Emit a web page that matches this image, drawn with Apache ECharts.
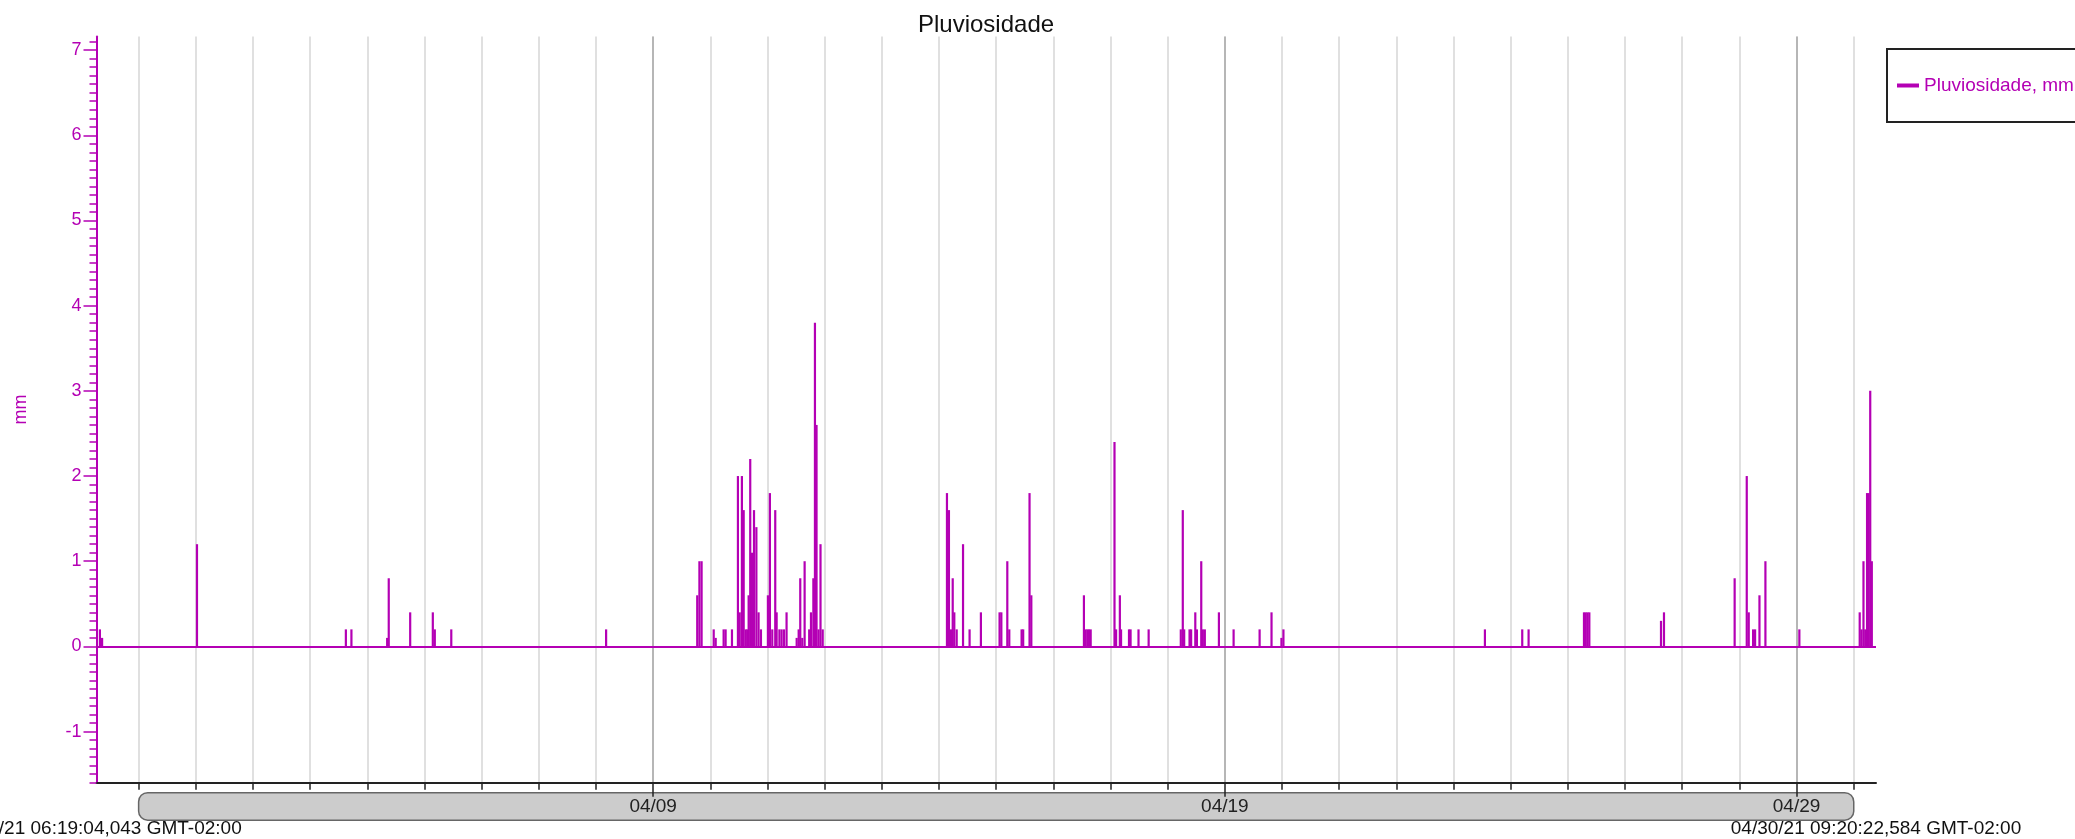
<!DOCTYPE html>
<html><head><meta charset="utf-8">
<script src="https://cdn.jsdelivr.net/npm/echarts@6/dist/echarts.min.js"></script>
<style>html,body{margin:0;padding:0;background:#fff}#c{width:2075px;height:839px}</style>
</head><body><div id="c"></div>
<script>
// ---------- data ----------
const TITLE = 'Pluviosidade';
const SERIES_NAME = 'Pluviosidade, mm';
const Y_NAME = 'mm';
const X_START = '2021-03-30 06:19:04.043';
const X_END = '2021-04-30 09:20:22.584';
const X_START_LABEL = '03/30/21 06:19:04,043 GMT-02:00';
const X_END_LABEL = '04/30/21 09:20:22,584 GMT-02:00';
const X_FIRST_DAY = '2021-03-31';
const X_LAST_DAY = '2021-04-30';
const X_MAJOR_DAYS = ['2021-04-09', '2021-04-19', '2021-04-29'];
const X_MAJOR_LABELS = ['04/09', '04/19', '04/29'];
const Y_MIN = -1.6;
const Y_MAX = 7.16;
const Y_LABELS = [-1, 0, 1, 2, 3, 4, 5, 6, 7];

const RAIN_TIMES = [
  '2021-03-30 07:45', '2021-03-30 08:40',
  '2021-04-01 00:30',
  '2021-04-03 15:00', '2021-04-03 17:20',
  '2021-04-04 08:20', '2021-04-04 09:00', '2021-04-04 18:00',
  '2021-04-05 03:30', '2021-04-05 04:20', '2021-04-05 11:15',
  '2021-04-08 04:15',
  '2021-04-09 18:30', '2021-04-09 19:25', '2021-04-09 20:20',
  '2021-04-10 01:25', '2021-04-10 02:15', '2021-04-10 05:35', '2021-04-10 06:25', '2021-04-10 09:05',
  '2021-04-10 11:35', '2021-04-10 12:20', '2021-04-10 13:15', '2021-04-10 14:00', '2021-04-10 14:50',
  '2021-04-10 15:30', '2021-04-10 16:05', '2021-04-10 16:45', '2021-04-10 17:30', '2021-04-10 18:20',
  '2021-04-10 19:20', '2021-04-10 20:15', '2021-04-10 21:15',
  '2021-04-11 00:10', '2021-04-11 01:00', '2021-04-11 02:00', '2021-04-11 03:15', '2021-04-11 03:50',
  '2021-04-11 05:00', '2021-04-11 05:55', '2021-04-11 06:55', '2021-04-11 08:00',
  '2021-04-11 12:15', '2021-04-11 13:05', '2021-04-11 13:45', '2021-04-11 14:35', '2021-04-11 15:35',
  '2021-04-11 17:30', '2021-04-11 18:15', '2021-04-11 19:15', '2021-04-11 19:55', '2021-04-11 20:35',
  '2021-04-11 21:25', '2021-04-11 22:15', '2021-04-11 23:10',
  '2021-04-14 03:20', '2021-04-14 04:10', '2021-04-14 05:00', '2021-04-14 05:45', '2021-04-14 06:25',
  '2021-04-14 07:25', '2021-04-14 10:05', '2021-04-14 12:50', '2021-04-14 17:35',
  '2021-04-15 01:25', '2021-04-15 02:10', '2021-04-15 04:40', '2021-04-15 05:30', '2021-04-15 10:40',
  '2021-04-15 11:20', '2021-04-15 14:00', '2021-04-15 14:45',
  '2021-04-16 12:50', '2021-04-16 13:30', '2021-04-16 14:15', '2021-04-16 14:55', '2021-04-16 15:40',
  '2021-04-17 01:40', '2021-04-17 02:20', '2021-04-17 03:55', '2021-04-17 04:25', '2021-04-17 07:45',
  '2021-04-17 08:25', '2021-04-17 11:45', '2021-04-17 16:00',
  '2021-04-18 05:30', '2021-04-18 06:20', '2021-04-18 06:55', '2021-04-18 09:10', '2021-04-18 09:50',
  '2021-04-18 11:35', '2021-04-18 12:15', '2021-04-18 14:05', '2021-04-18 14:45', '2021-04-18 15:35',
  '2021-04-18 21:30',
  '2021-04-19 03:40', '2021-04-19 14:35', '2021-04-19 19:35', '2021-04-19 23:45', '2021-04-20 00:35',
  '2021-04-23 13:10', '2021-04-24 04:50', '2021-04-24 07:30',
  '2021-04-25 06:45', '2021-04-25 07:30', '2021-04-25 08:15', '2021-04-25 09:00',
  '2021-04-26 15:05', '2021-04-26 16:20',
  '2021-04-27 22:00',
  '2021-04-28 03:05', '2021-04-28 03:55', '2021-04-28 05:45', '2021-04-28 06:35', '2021-04-28 08:25',
  '2021-04-28 10:55',
  '2021-04-29 01:10',
  '2021-04-30 02:30', '2021-04-30 03:15', '2021-04-30 04:05', '2021-04-30 04:50', '2021-04-30 05:35',
  '2021-04-30 06:15', '2021-04-30 06:55', '2021-04-30 07:35'
];
const RAIN_VALUES = [
  0.2, 0.1,
  1.2,
  0.2, 0.2,
  0.1, 0.8, 0.4,
  0.4, 0.2, 0.2,
  0.2,
  0.6, 1.0, 1.0,
  0.2, 0.1, 0.2, 0.2, 0.2,
  2.0, 0.4, 2.0, 1.6, 0.2,
  0.2, 0.6, 2.2, 1.1, 1.6,
  1.4, 0.4, 0.2,
  0.6, 1.8, 0.2, 1.6, 0.4,
  0.2, 0.2, 0.2, 0.4,
  0.1, 0.2, 0.8, 0.1, 1.0,
  0.2, 0.4, 0.8, 3.8, 2.6,
  0.2, 1.2, 0.2,
  1.8, 1.6, 0.2, 0.8, 0.4,
  0.2, 1.2, 0.2, 0.4,
  0.4, 0.4, 1.0, 0.2, 0.2,
  0.2, 1.8, 0.6,
  0.6, 0.2, 0.2, 0.2, 0.2,
  2.4, 0.2, 0.6, 0.2, 0.2,
  0.2, 0.2, 0.2,
  0.2, 1.6, 0.2, 0.2, 0.2,
  0.4, 0.2, 1.0, 0.2, 0.2,
  0.4,
  0.2, 0.2, 0.4, 0.1, 0.2,
  0.2, 0.2, 0.2,
  0.4, 0.4, 0.4, 0.4,
  0.3, 0.4,
  0.8,
  2.0, 0.4, 0.2, 0.2, 0.6,
  1.0,
  0.2,
  0.4, 0.2, 1.0, 0.2, 1.8,
  1.8, 3.0, 1.0
];

// ---------- helpers ----------
function toMs(s) {
  const parts = s.split(' ');
  let t = parts[1] || '00:00';
  if (t.length === 5) t += ':00';
  return new Date(parts[0] + 'T' + t).getTime();
}
const T0 = toMs(X_START), T1 = toMs(X_END);
const DAY_TICKS = [];
{
  const d = new Date(toMs(X_FIRST_DAY));
  const last = toMs(X_LAST_DAY);
  while (d.getTime() <= last) { DAY_TICKS.push(d.getTime()); d.setDate(d.getDate() + 1); }
}
const MAJOR_TICKS = X_MAJOR_DAYS.map(toMs);
const Y_MINOR = [];
for (let i = Math.round(Y_MIN * 10); i <= Math.floor(Y_MAX * 10); i++) Y_MINOR.push(i / 10);

const MAG = '#b400b4';
const FONT = 'Liberation Sans';

const chart = echarts.init(document.getElementById('c'), null, { renderer: 'canvas' });
const option = {
  animation: false,
  backgroundColor: '#ffffff',
  title: {
    text: TITLE, left: 913, top: 8,
    textStyle: { fontFamily: FONT, fontSize: 24, fontWeight: 'normal', color: '#111' }
  },
  legend: {
    left: 1887, top: 49,
    padding: [27, 40, 27, 10],
    backgroundColor: '#fff', borderColor: '#222', borderWidth: 2, borderRadius: 0,
    itemWidth: 22, itemHeight: 4, icon: 'rect',
    textStyle: { color: MAG, fontFamily: FONT, fontSize: 19 },
    data: [SERIES_NAME]
  },
  grid: { left: 96.5, right: 199, top: 36.5, bottom: 56.3, containLabel: false, outerBoundsMode: 'none' },
  xAxis: [
    {
      type: 'value', min: T0, max: T1, position: 'bottom', scale: true,
      axisLine: { show: true, onZero: false, lineStyle: { color: '#222', width: 2 } },
      axisTick: { show: true, customValues: DAY_TICKS, length: 7, lineStyle: { color: '#222', width: 1.5 } },
      axisLabel: {
        show: true, customValues: MAJOR_TICKS, margin: 15, hideOverlap: false,
        formatter: function (v) { const i = MAJOR_TICKS.indexOf(v); return i >= 0 ? X_MAJOR_LABELS[i] : ''; },
        fontFamily: FONT, fontSize: 19, color: '#222'
      },
      splitLine: { show: true, lineStyle: { color: '#d6d6d6', width: 1.5 } }
    },
    {
      type: 'value', min: T0, max: T1, position: 'bottom', scale: true,
      axisLine: { show: false, onZero: false },
      axisTick: { show: true, customValues: MAJOR_TICKS, length: 14, lineStyle: { color: '#222', width: 1.5 } },
      axisLabel: { show: false },
      splitLine: { show: true, lineStyle: { color: '#a8a8a8', width: 1.5 } }
    },
    {
      type: 'value', min: T0, max: T1, position: 'bottom', scale: true,
      axisLine: { show: false, onZero: false },
      axisTick: { show: false },
      axisLabel: {
        show: true, customValues: [T0, T1], margin: 37, hideOverlap: false,
        formatter: function (v) { return v === T0 ? X_START_LABEL : (v === T1 ? X_END_LABEL : ''); },
        fontFamily: FONT, fontSize: 19, color: '#111'
      },
      splitLine: { show: false }
    }
  ],
  yAxis: [
    {
      type: 'value', min: Y_MIN, max: Y_MAX, position: 'left',
      axisLine: { show: true, onZero: false, lineStyle: { color: MAG, width: 2 } },
      axisTick: { show: true, customValues: Y_MINOR, length: 7, lineStyle: { color: MAG, width: 1.5 } },
      axisLabel: { show: false },
      splitLine: { show: false }
    },
    {
      type: 'value', min: Y_MIN, max: Y_MAX, position: 'left',
      axisLine: { show: false, onZero: false },
      axisTick: { show: true, customValues: Y_LABELS, length: 13, lineStyle: { color: MAG, width: 1.5 } },
      axisLabel: { show: true, customValues: Y_LABELS, margin: 15, color: MAG, fontFamily: FONT, fontSize: 18 },
      splitLine: { show: false },
      name: Y_NAME, nameLocation: 'middle', nameGap: 66, nameRotate: 90,
      nameTextStyle: { color: MAG, fontFamily: FONT, fontSize: 18 }
    }
  ],
  series: [{
    type: 'bar', name: SERIES_NAME, xAxisIndex: 0, yAxisIndex: 0,
    barWidth: 2.2, itemStyle: { color: MAG },
    data: RAIN_TIMES.map(function (t, i) { return [toMs(t), RAIN_VALUES[i]]; }),
    markLine: {
      symbol: 'none', silent: true, label: { show: false },
      lineStyle: { color: MAG, width: 2, type: 'solid' },
      data: [{ yAxis: 0 }]
    },
    z: 5
  }]
};
chart.setOption(option);

// grey day-band under the x axis, positioned through the axis scale
const bx0 = chart.convertToPixel({ xAxisIndex: 0 }, DAY_TICKS[0]);
const bx1 = chart.convertToPixel({ xAxisIndex: 0 }, DAY_TICKS[DAY_TICKS.length - 1]);
const axisY = chart.convertToPixel({ yAxisIndex: 0 }, Y_MIN);
chart.setOption({
  graphic: [{
    type: 'rect', z: -1,
    shape: { x: bx0, y: axisY + 10, width: bx1 - bx0, height: 27.5, r: 9 },
    style: { fill: '#cccccc', stroke: '#666', lineWidth: 1.5 }
  }]
});
</script></body></html>
